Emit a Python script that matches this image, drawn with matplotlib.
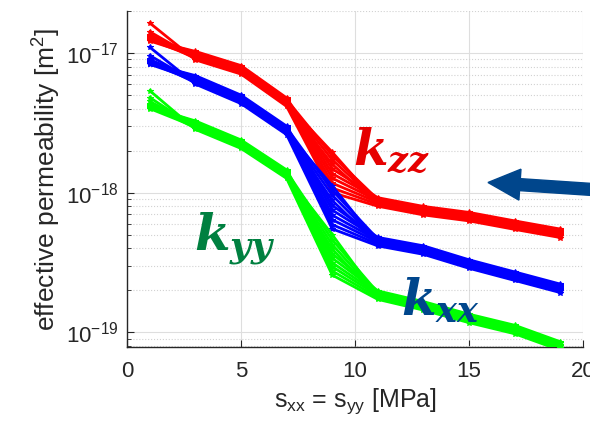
import matplotlib
matplotlib.use('Agg')
import matplotlib.pyplot as plt
from matplotlib.patches import FancyArrow
from matplotlib.ticker import LogLocator, NullLocator, NullFormatter

plt.rcParams['font.family'] = ['Liberation Sans', 'DejaVu Sans']
plt.rcParams['mathtext.fontset'] = 'custom'
plt.rcParams['mathtext.rm'] = 'Liberation Sans'
plt.rcParams['mathtext.it'] = 'DejaVu Serif:italic:bold'
plt.rcParams['mathtext.bf'] = 'DejaVu Serif:bold'
plt.rcParams['axes.unicode_minus'] = False

# ---- data ----
stress = [1, 3, 5, 7, 9, 11, 13, 15, 17, 19]

kzz_main = [1.27e-17, 9.6e-18, 7.6e-18, 4.46e-18, 1.95e-18, 8.6e-19, 7.45e-19, 6.75e-19, 5.87e-19, 5.13e-19]
kzz_at1 = [1.64e-17, 1.42e-17, 1.35e-17, 1.30e-17, 1.27e-17, 1.24e-17, 1.32e-17, 1.22e-17, 1.28e-17, 1.25e-17]
kzz_at9 = [1.0e-18, 1.08e-18, 1.17e-18, 1.27e-18, 1.37e-18, 1.48e-18, 1.60e-18, 1.72e-18, 1.84e-18, 1.95e-18]

kxx_main = [8.6e-18, 6.44e-18, 4.67e-18, 2.8e-18, 1.12e-18, 4.47e-19, 3.89e-19, 3.09e-19, 2.53e-19, 2.07e-19]
kxx_at1 = [1.1e-17, 9.6e-18, 9.0e-18, 8.8e-18, 8.6e-18, 8.4e-18, 8.9e-18, 8.3e-18, 8.7e-18, 8.5e-18]
kxx_at9 = [5.5e-19, 5.9e-19, 6.4e-19, 6.9e-19, 7.5e-19, 8.1e-19, 8.8e-19, 9.6e-19, 1.04e-18, 1.12e-18]

kyy_main = [4.2e-18, 3.05e-18, 2.23e-18, 1.36e-18, 5.0e-19, 1.85e-19, 1.55e-19, 1.26e-19, 1.05e-19, 8.0e-20]
kyy_at1 = [5.37e-18, 4.8e-18, 4.5e-18, 4.3e-18, 4.2e-18, 4.1e-18, 4.25e-18, 4.05e-18, 4.15e-18, 4.0e-18]
kyy_at9 = [2.57e-19, 2.75e-19, 2.95e-19, 3.15e-19, 3.4e-19, 3.65e-19, 3.95e-19, 4.25e-19, 4.6e-19, 5.0e-19]

band = [0.93, 0.96, 0.99, 1.02, 1.05, 1.07, 0.95, 1.0, 1.04, 0.97]

series = [
    (kzz_main, kzz_at1, kzz_at9, '#FF0000'),
    (kxx_main, kxx_at1, kxx_at9, '#0000FF'),
    (kyy_main, kyy_at1, kyy_at9, '#00FF00'),
]

fig = plt.figure(figsize=(5.9, 4.28), dpi=100)
ax = fig.add_axes([0.2153, 0.1893, 0.7729, 0.785])

for main, at1, at9, col in series:
    for i in range(len(band)):
        ys = []
        for j, v in enumerate(main):
            if j == 0:
                ys.append(at1[i])
            elif j == 4:
                ys.append(at9[i])
            else:
                ys.append(v * band[i])
        ax.plot(stress, ys, '-*', color=col, lw=2.0, ms=4, mew=0.8, zorder=3)

ax.set_yscale('log')
ax.set_xlim(0, 20)
ax.set_ylim(7.85e-20, 2.0e-17)
ax.set_xticks([0, 5, 10, 15, 20])
ax.set_yticks([1e-19, 1e-18, 1e-17])
ax.yaxis.set_minor_locator(LogLocator(base=10, subs=[2, 3, 4, 5, 6, 7, 8, 9]))
ax.yaxis.set_minor_formatter(NullFormatter())
ax.xaxis.set_minor_locator(NullLocator())

ax.grid(True, which='major', color='#dedede', lw=0.8)
ax.grid(True, which='minor', axis='y', color='#d2d2d2', ls=':', lw=0.8)
ax.set_axisbelow(True)
for s in ['top', 'right']:
    ax.spines[s].set_visible(False)
for s in ['left', 'bottom']:
    ax.spines[s].set_color('#262626')
    ax.spines[s].set_linewidth(1.0)

ax.tick_params(which='both', direction='in', colors='#262626', labelsize=16)
ax.tick_params(which='major', length=5)
ax.tick_params(which='minor', length=3)
ax.tick_params(axis='y', pad=6)
ax.tick_params(axis='x', pad=10)

ax.set_xlabel(r'$\mathregular{s_{xx}}$ = $\mathregular{s_{yy}}$ [MPa]', fontsize=18, color='#262626', labelpad=3)
ax.set_ylabel(r'effective permeability [m$\mathregular{^2}$]', fontsize=19, color='#262626', labelpad=2)

ax.text(9.9, 1.58e-18, r'$k_{zz}$', color='#E60000', fontsize=36, ha='left', va='baseline', zorder=5)
ax.text(2.95, 3.89e-19, r'$k_{yy}$', color='#008040', fontsize=37, ha='left', va='baseline', zorder=5)
ax.text(12.0, 1.33e-19, r'$k_{xx}$', color='#00468C', fontsize=36, ha='left', va='baseline', zorder=5)

arrow = FancyArrow(6.0, 2.38, -1.12, 0.075, width=0.12, head_width=0.31, head_length=0.32,
                   length_includes_head=True, color='#00468C', transform=fig.dpi_scale_trans)
fig.patches.append(arrow)

fig.savefig('out.png', dpi=100)
